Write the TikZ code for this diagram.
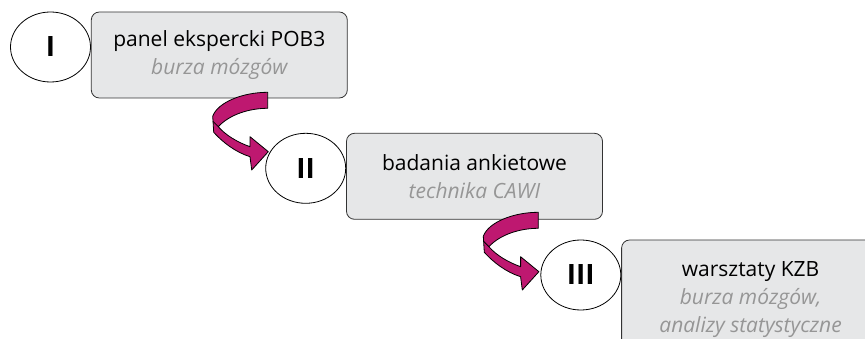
\documentclass[tikz,border=0pt]{standalone}
\usepackage{fontspec}
\setmainfont{Open Sans}
\usetikzlibrary{shapes.geometric,positioning}
\definecolor{boxgrey}{RGB}{230,231,232}
\definecolor{turnpink}{RGB}{190,24,112}
\definecolor{notegrey}{RGB}{150,150,150}
\newcommand{\metoda}[1]{{\color{notegrey}\itshape #1}}
\tikzset{
    % numbered stage
    stage/.style={
           draw, ellipse,
           line width=0.8pt,
           minimum width=80pt,
           minimum height=70pt,
           inner sep=0pt,
           font=\fontsize{28}{28}\selectfont\bfseries},
    % grey box next to a stage
    descr/.style={
           draw=black!80, fill=boxgrey,
           rounded corners=8pt,
           line width=0.8pt,
           anchor=north west,
           minimum width=256pt,
           minimum height=86pt,
           align=center,
           font=\fontsize{21}{28}\selectfont},
    % bent arrow between the stages
    turn arrow/.pic={
           \draw[line width=0.8pt, fill=turnpink, line join=round]
               (0,0) .. controls (-25,0) and (-50,10) .. (-55,24)
               -- (-54,40) .. controls (-45,50) and (-32,60) .. (-17.7,64.4)
               -- (-16,77.7) -- (0.6,59.4) -- (-17.7,44.4) -- (-17.7,54.4)
               .. controls (-30,50) and (-42,43) .. (-49.4,34.4)
               .. controls (-38,22) and (-18,16) .. (0,16) -- cycle;
           \draw[line width=0.8pt] (-54.8,29) -- (-49.4,34.4);}
}
\begin{document}
\begin{tikzpicture}[x=1pt,y=-1pt]
    \useasboundingbox (0,0) rectangle (865,339);
    \clip (0,0) rectangle (865,339);

    % stages
    \node[stage](I) at (50.5,47){I};
    \node[stage](II) at (305.7,168.3){II};
    \node[stage](III) at (580.8,275){III};

    % boxes
    \node[descr](panel) at (I.east |- I.north){panel ekspercki POB3\\\metoda{burza mózgów}};
    \node[descr](badania) at (II.east |- II.north){badania ankietowe\\\metoda{technika CAWI}};
    \node[descr, minimum width=258pt, minimum height=119pt](warsztaty) at (III.east |- III.north)
        {warsztaty KZB\\\metoda{burza mózgów,}\\\metoda{analizy statystyczne}};

    % arrows
    \pic at (267.7,92.3){turn arrow};
    \pic at (538.3,212.3){turn arrow};
\end{tikzpicture}
\end{document}
